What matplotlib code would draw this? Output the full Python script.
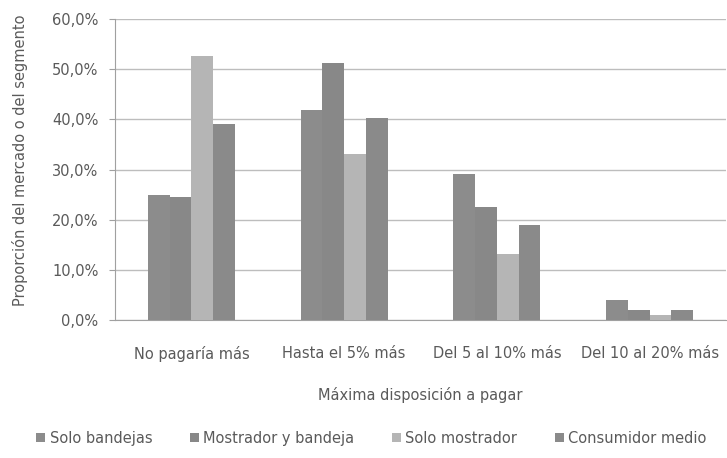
import matplotlib
matplotlib.use("Agg")
import matplotlib.pyplot as plt
import numpy as np
from matplotlib.ticker import FuncFormatter

# datos
categorias = ["No pagaría más", "Hasta el 5% más", "Del 5 al 10% más", "Del 10 al 20% más"]
series = ["Solo bandejas", "Mostrador y bandeja", "Solo mostrador", "Consumidor medio"]
solo_bandejas = [25.0, 41.9, 29.2, 4.0]
mostrador_bandeja = [24.5, 51.2, 22.5, 2.0]
solo_mostrador = [52.7, 33.1, 13.1, 1.0]
consumidor_medio = [39.0, 40.2, 18.9, 2.0]

valores = [solo_bandejas, mostrador_bandeja, solo_mostrador, consumidor_medio]
colores = ["#8c8c8c", "#888888", "#b5b5b5", "#8a8a8a"]

plt.rcParams['font.family'] = ['DejaVu Sans']
txt = "#5a5a5a"
fs = 10.5

fig = plt.figure(figsize=(7.27, 4.58), dpi=100)
ax = fig.add_axes([115 / 727, 1 - 320 / 458, 611 / 727, 301 / 458])

x = np.arange(len(categorias))
ancho = 0.142
for i, (vals, col) in enumerate(zip(valores, colores)):
    ax.bar(x + (i - 1.5) * ancho, vals, ancho, color=col, label=series[i], zorder=3)

ax.set_xlim(-0.5, 3.5)
ax.set_ylim(0, 60)
ax.set_yticks(np.arange(0, 61, 10))
ax.yaxis.set_major_formatter(FuncFormatter(lambda v, p: f"{v:.1f}%".replace(".", ",")))
ax.grid(axis="y", color="#bdbdbd", linewidth=1, zorder=0)
ax.set_xticks(x)
ax.set_xticklabels(categorias)

for s in ["top", "right"]:
    ax.spines[s].set_visible(False)
for s in ["left", "bottom"]:
    ax.spines[s].set_color("#a0a0a0")
ax.tick_params(axis="y", colors="#a0a0a0", labelcolor=txt, labelsize=fs, length=4, pad=8)
ax.tick_params(axis="x", length=0, labelcolor=txt, labelsize=fs, pad=19)

ax.set_xlabel("Máxima disposición a pagar", color=txt, fontsize=fs, labelpad=18)
ax.set_ylabel("Proporción del mercado o del segmento", color=txt, fontsize=10.5)
ax.yaxis.set_label_coords(-0.142, 0.53)

ax.legend(loc="upper center", bbox_to_anchor=(0.42, -0.325), ncol=4, frameon=False,
          fontsize=fs, labelcolor=txt, handlelength=0.6, handleheight=0.6,
          handletextpad=0.3, columnspacing=2.6)

fig.savefig("out.png", dpi=100)
